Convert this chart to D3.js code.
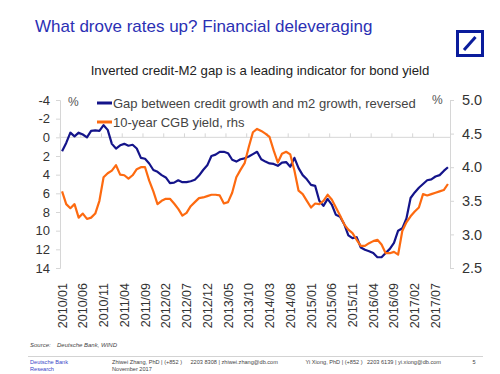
<!DOCTYPE html>
<html>
<head>
<meta charset="utf-8">
<script src="https://cdn.jsdelivr.net/npm/d3@7/dist/d3.min.js"></script>
<style>
  body { margin: 0; background: #fff; }
  svg { display: block; font-family: "Liberation Sans", Arial, sans-serif; }
</style>
</head>
<body>
<div id="chart"></div>
<script>
// monthly series, 2010/01 .. 2017/10
var startYear = 2010;
var nMonths = 94;

// credit growth minus m2 growth, reversed (lhs, %)
var gapReversed = [
  1.5, 0.6, -0.5, -0.1, -0.5, -0.3, 0.0, -0.7, -0.75, -0.7,
  -1.3, -0.8, 0.7, 1.2, 0.85, 0.7, 0.9, 0.8, 1.2, 2.2,
  2.3, 2.8, 3.5, 3.7, 4.05, 4.3, 4.9, 4.85, 4.6, 4.8,
  4.8, 4.7, 4.55, 4.1, 3.5, 3.0, 2.0, 1.85, 1.55, 1.55,
  1.7, 2.4, 2.6, 2.35, 2.25, 2.05, 1.8, 1.55, 2.35, 2.6,
  2.8, 2.85, 3.05, 2.7, 2.65, 3.15, 2.2, 3.3, 4.05, 4.5,
  5.1, 5.2, 6.8, 7.35, 6.6, 7.2, 8.3, 8.5, 9.3, 10.5,
  10.8, 10.7, 11.8, 12.05, 12.2, 12.4, 12.85, 12.85, 12.4, 11.95,
  11.3, 10.0, 9.75, 8.7, 6.5, 5.9, 5.4, 5.0, 4.6, 4.5,
  4.2, 4.05, 3.6, 3.2
];

// 10-year CGB yield (rhs, %)
var cgbYield = [
  3.64, 3.45, 3.39, 3.45, 3.25, 3.31, 3.23, 3.25, 3.31, 3.5,
  3.85, 3.91, 3.95, 4.03, 3.89, 3.88, 3.83, 3.88, 3.97, 4.0,
  4.0, 3.8, 3.64, 3.45, 3.5, 3.53, 3.53, 3.46, 3.38, 3.28,
  3.32, 3.42, 3.48, 3.54, 3.55, 3.57, 3.59, 3.59, 3.58, 3.46,
  3.48, 3.62, 3.85, 3.96, 4.06, 4.3, 4.52, 4.57, 4.54, 4.5,
  4.45, 4.25, 4.07, 4.2, 4.23, 4.19, 3.95, 3.65, 3.6, 3.5,
  3.4, 3.46, 3.45, 3.5, 3.59, 3.52, 3.4, 3.28, 3.15, 3.07,
  3.02, 2.92, 2.83, 2.83, 2.87, 2.9, 2.92, 2.85, 2.72, 2.72,
  2.74, 2.7, 3.05, 3.18, 3.27, 3.34, 3.4, 3.6, 3.58, 3.6,
  3.62, 3.64, 3.66, 3.75
];

var xTickLabels = ["2010/01","2010/06","2010/11","2011/04","2011/09","2012/02","2012/07",
  "2012/12","2013/05","2013/10","2014/03","2014/08","2015/01","2015/06","2015/11",
  "2016/04","2016/09","2017/02","2017/07"];
var leftTicks = [-4, -2, 0, 2, 4, 6, 8, 10, 12, 14];
var rightTicks = [5.0, 4.5, 4.0, 3.5, 3.0, 2.5];

var legendLabels = ["Gap between credit growth and m2 growth, reversed", "10-year CGB yield, rhs"];
var navy = "#14148a";
var orange = "#fd6a10";

var months = [];
for (var i = 0; i < nMonths; i++) {
  var yy = startYear + Math.floor(i / 12);
  var mm = (i % 12) + 1;
  months.push(yy + "/" + (mm < 10 ? "0" + mm : mm));
}

var W = 500, H = 374;
var svg = d3.select("#chart").append("svg").attr("width", W).attr("height", H);

// header
svg.append("text").attr("x", 35).attr("y", 32)
  .attr("font-size", "17px").attr("fill", "#2b30b4")
  .text("What drove rates up? Financial deleveraging");

var logo = svg.append("g");
logo.append("rect").attr("x", 457.5).attr("y", 31.5).attr("width", 25).attr("height", 24)
  .attr("fill", "none").attr("stroke", "#0a1c9c").attr("stroke-width", 3);
logo.append("line").attr("x1", 464).attr("y1", 50).attr("x2", 475.5).attr("y2", 37)
  .attr("stroke", "#0a1c9c").attr("stroke-width", 3);

svg.append("text").attr("x", 260).attr("y", 75).attr("text-anchor", "middle")
  .attr("font-size", "13.2px").attr("fill", "#222")
  .text("Inverted credit-M2 gap is a leading indicator for bond yield");

// scales
var x = d3.scaleBand().domain(months).range([60, 450]);
var yL = d3.scaleLinear().domain([-4, 14]).range([100, 268]);
var yR = d3.scaleLinear().domain([5.0, 2.5]).range([100, 268]);
var cx = function(i) { return x(months[i]) + x.bandwidth() / 2; };

var axisColor = "#d6d6d6";

// left axis
var gl = svg.append("g").attr("transform", "translate(60,0)")
  .call(d3.axisLeft(yL).tickValues(leftTicks).tickSize(4).tickPadding(6)
    .tickFormat(function(d) { return String(d); }));
gl.select(".domain").attr("stroke", axisColor);
gl.selectAll(".tick line").attr("stroke", axisColor);
gl.selectAll(".tick text").attr("font-size", "13px").attr("fill", "#333")
  .attr("font-family", "Liberation Sans, Arial, sans-serif");

// right axis
var gr = svg.append("g").attr("transform", "translate(450,0)")
  .call(d3.axisRight(yR).tickValues(rightTicks).tickSize(4).tickPadding(8).tickFormat(d3.format(".1f")));
gr.select(".domain").attr("stroke", axisColor);
gr.selectAll(".tick line").attr("stroke", axisColor);
gr.selectAll(".tick text").attr("font-size", "14.5px").attr("fill", "#333")
  .attr("font-family", "Liberation Sans, Arial, sans-serif");

// x axis sits on the zero line, labels at the bottom
svg.append("line").attr("x1", 60).attr("x2", 450).attr("y1", yL(0)).attr("y2", yL(0))
  .attr("stroke", axisColor);
svg.append("g").selectAll("line").data(xTickLabels).enter().append("line")
  .attr("x1", function(d) { return x(d); }).attr("x2", function(d) { return x(d); })
  .attr("y1", yL(0)).attr("y2", yL(0) - 4)
  .attr("stroke", axisColor);
svg.append("g").selectAll("text").data(xTickLabels).enter().append("text")
  .attr("transform", function(d) {
    return "translate(" + (x(d) + x.bandwidth() / 2 + 4.5) + ",283) rotate(-90)";
  })
  .attr("text-anchor", "end")
  .attr("font-size", "12.5px").attr("fill", "#333")
  .text(function(d) { return d; });

// unit labels
svg.append("text").attr("x", 68).attr("y", 106).attr("font-size", "12px").attr("fill", "#555").text("%");
svg.append("text").attr("x", 432).attr("y", 104).attr("font-size", "12px").attr("fill", "#555").text("%");

// lines
var lineL = d3.line().x(function(d, i) { return cx(i); }).y(function(d) { return yL(d); });
var lineR = d3.line().x(function(d, i) { return cx(i); }).y(function(d) { return yR(d); });

svg.append("path").datum(gapReversed).attr("d", lineL)
  .attr("fill", "none").attr("stroke", navy).attr("stroke-width", 2.2).attr("stroke-linejoin", "round");
svg.append("path").datum(cgbYield).attr("d", lineR)
  .attr("fill", "none").attr("stroke", orange).attr("stroke-width", 2.2).attr("stroke-linejoin", "round");

// legend
var leg = svg.append("g").selectAll("g").data(legendLabels).enter().append("g")
  .attr("transform", function(d, i) { return "translate(97," + (103 + i * 19) + ")"; });
leg.append("line").attr("x1", 0).attr("x2", 15).attr("y1", 0).attr("y2", 0)
  .attr("stroke-width", 3)
  .attr("stroke", function(d, i) { return i == 0 ? navy : orange; });
leg.append("text").attr("x", 16).attr("y", 4.5)
  .attr("font-size", "13px").attr("fill", "#444")
  .text(function(d) { return d; });

// source and footer
var src = svg.append("text").attr("x", 30).attr("y", 347).attr("font-size", "6px")
  .attr("font-style", "italic").attr("fill", "#444");
src.append("tspan").text("Source:");
src.append("tspan").attr("x", 57).text("Deutsche Bank, WIND");

svg.append("line").attr("x1", 28).attr("x2", 483).attr("y1", 356.5).attr("y2", 356.5)
  .attr("stroke", "#c8c8c8").attr("stroke-width", 0.8);

var foot = function(xx, yy, txt, col) {
  svg.append("text").attr("x", xx).attr("y", yy).attr("font-size", "5.6px")
    .attr("fill", col || "#444").text(txt);
};
foot(30, 364, "Deutsche Bank", "#3a46c8");
foot(30, 371, "Research", "#3a46c8");
foot(112, 364, "Zhiwei Zhang, PhD | (+852 )");
foot(190.5, 364, "2203 8308 | zhiwei.zhang@db.com");
foot(112, 371, "November 2017");
foot(305.5, 364, "Yi Xiong, PhD | (+852 )");
foot(367, 364, "2203 6139 | yi.xiong@db.com");
foot(472.5, 364, "5");
</script>
</body>
</html>
